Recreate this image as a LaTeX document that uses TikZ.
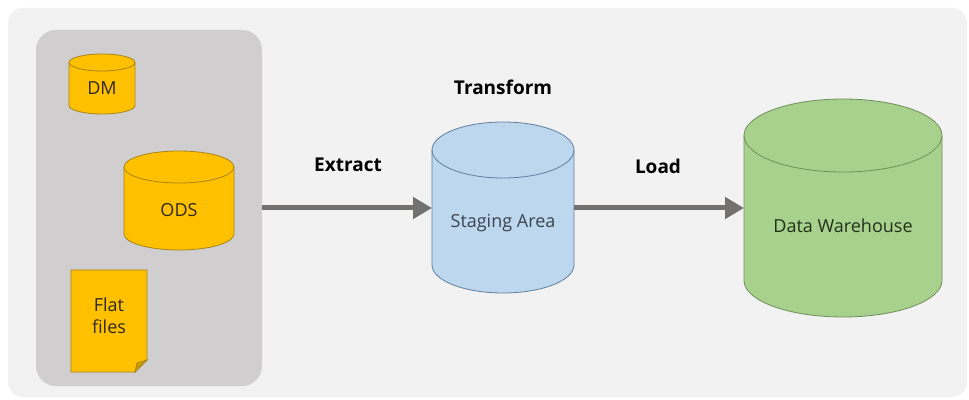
\documentclass[tikz,border=0pt]{standalone}
\usepackage{fontspec}
\setmainfont{Open Sans}
\usetikzlibrary{arrows.meta}
\definecolor{outerbg}{HTML}{F2F2F2}
\definecolor{panelbg}{HTML}{D0CECE}
\definecolor{yfill}{HTML}{FFC000}
\definecolor{ydraw}{HTML}{A8841C}
\definecolor{bfill}{HTML}{BDD7EE}
\definecolor{bdraw}{HTML}{5F7F9C}
\definecolor{gfill}{HTML}{A9D18E}
\definecolor{gdraw}{HTML}{6F8F5A}
\definecolor{arrowgray}{HTML}{737070}
\definecolor{ytext}{HTML}{2E2A22}
\definecolor{btext}{HTML}{3A4450}
\definecolor{gtext}{HTML}{1F3118}
\newcommand\drawcyl[6]{%
  \path[#6] (#1-#2,#3-#5) -- (#1-#2,#4+#5)
    arc[start angle=180,end angle=360,x radius=#2,y radius=#5]
    -- (#1+#2,#3-#5)
    arc[start angle=0,end angle=180,x radius=#2,y radius=#5] -- cycle;
  \draw[#6,fill=none] (#1-#2,#3-#5)
    arc[start angle=180,end angle=360,x radius=#2,y radius=#5];}
\begin{document}
\begin{tikzpicture}[x=1pt,y=1pt,
  every node/.style={font=\fontsize{18}{21}\selectfont},
  ycyl/.style={fill=yfill,draw=ydraw,line width=0.8pt},
  bcyl/.style={fill=bfill,draw=bdraw,line width=0.8pt},
  gcyl/.style={fill=gfill,draw=gdraw,line width=0.8pt},
  hidden/.style={draw=none,fill=none,inner sep=0pt,outer sep=0pt},
  flow/.style={draw=arrowgray,line width=5pt,-{Triangle[length=19pt,width=21pt]}},
  steplabel/.style={font=\fontsize{19}{22}\selectfont\bfseries,text=black}]
\useasboundingbox (0,0) rectangle (969,399);
\fill[white] (0,0) rectangle (969,399);
\fill[outerbg,rounded corners=15pt] (8,2) rectangle (967,391);
% left panel
\node[hidden,fill=panelbg,rounded corners=20pt,minimum width=226pt,minimum height=356pt] (panel) at (149,191) {};
% DM
\drawcyl{102}{33}{345}{285}{8.5}{ycyl}
\node[text=ytext] (dm) at (102,311) {DM};
% ODS
\drawcyl{179}{55}{248}{149}{16}{ycyl}
\node[text=ytext] (ods) at (179,189) {ODS};
% Flat files
\path[ycyl] (71,129) -- (147,129) -- (147,39) -- (135,27) -- (71,27) -- cycle;
\path[ycyl,fill=yfill!80!black] (135,27) -- (137,36) -- (147,39) -- cycle;
\node[text=ytext,align=center,font=\fontsize{18}{22}\selectfont] (flat) at (109,83) {Flat\\files};
% Staging area
\drawcyl{503}{71}{277}{106}{28}{bcyl}
\node[hidden,minimum width=142pt,minimum height=171pt] (stage) at (503,191) {};
\node[text=btext] (stagetext) at (503,176) {Staging Area};
% Data warehouse
\drawcyl{843}{99}{300}{82}{36.5}{gcyl}
\node[hidden,minimum width=198pt,minimum height=218pt] (dw) at (843,191) {};
\node[text=gtext] (dwtext) at (843,173) {Data Warehouse};
% connectors
\draw[flow] (panel.east) -- (stage.west);
\draw[flow] (stage.east) -- (dw.west);
% labels
\node[steplabel] (extract) at (348,234) {Extract};
\node[steplabel] (transform) at (503,312) {Transform};
\node[steplabel] (load) at (658,233) {Load};
\end{tikzpicture}
\end{document}
